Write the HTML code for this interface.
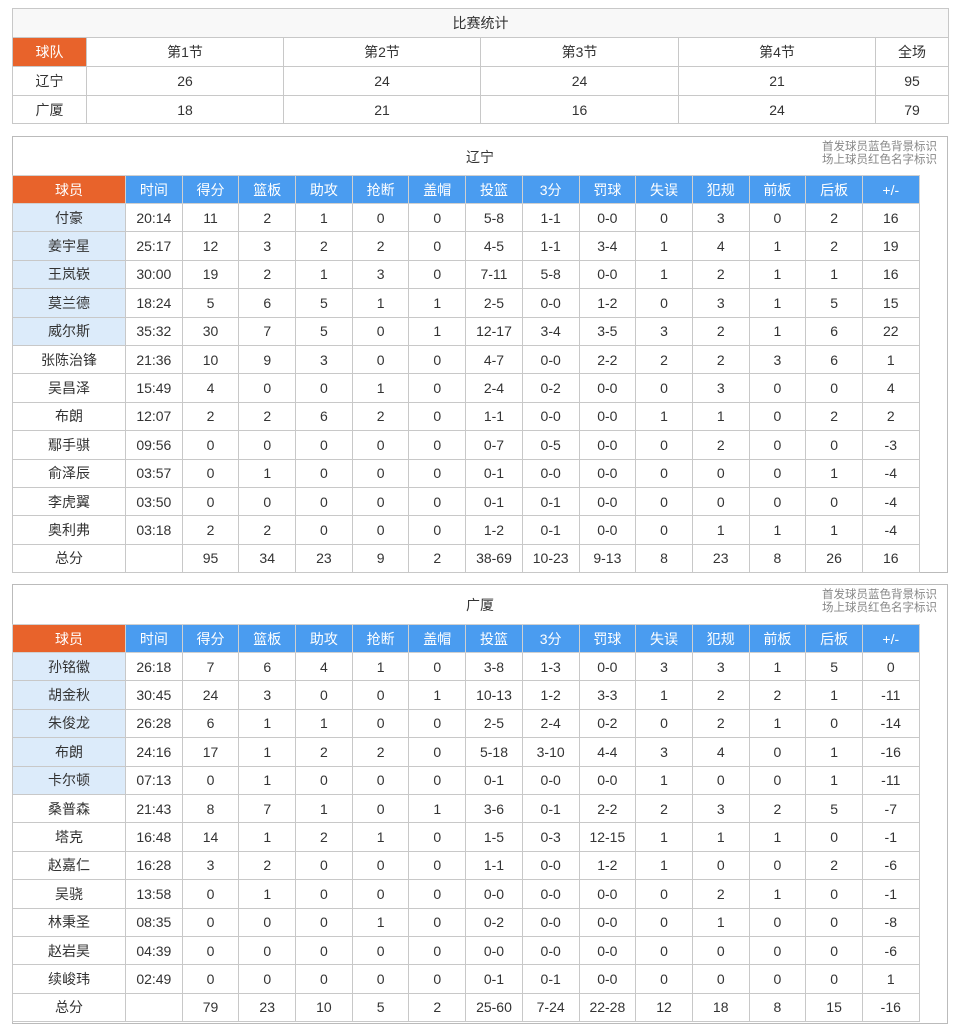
<!DOCTYPE html>
<html><head><meta charset="utf-8"><style>
*{margin:0;padding:0;box-sizing:border-box}
body{width:960px;height:1021px;background:#fff;position:relative;overflow:hidden;font-family:"Liberation Sans","Noto Sans CJK SC",sans-serif;font-size:14px;color:#333}
table{border-collapse:collapse;table-layout:fixed;position:absolute}
td{border:1px solid #c8c8c8;text-align:center;vertical-align:middle;white-space:nowrap;overflow:hidden}
.box{position:absolute;left:12px;width:936px;border:1px solid #bbb;background:#fff}
.o{background:#e8632b;color:#fff}
.h td{background:#4a9cf0;color:#fff;border-color:#d0d0d0}
.h td.o{background:#e8632b}
.s{background:#dcebfa}
.title{position:absolute;left:0;width:100%;text-align:center;font-size:14px}
.note{position:absolute;right:10px;font-size:11.5px;color:#888;line-height:13px;text-align:right}
</style></head><body>

<table style="left:12px;top:8px;width:936px">
<colgroup><col style="width:74px"><col style="width:197px"><col style="width:197px"><col style="width:198px"><col style="width:197px"><col style="width:73px"></colgroup>
<tr style="height:29px"><td colspan="6" style="background:#f8f8f8">比赛统计</td></tr>
<tr style="height:29px"><td class="o">球队</td><td>第1节</td><td>第2节</td><td>第3节</td><td>第4节</td><td>全场</td></tr>
<tr style="height:29px"><td>辽宁</td><td>26</td><td>24</td><td>24</td><td>21</td><td>95</td></tr>
<tr style="height:28px"><td>广厦</td><td>18</td><td>21</td><td>16</td><td>24</td><td>79</td></tr>
</table>

<div class="box" style="top:136px;height:437px">
<div class="title" style="top:10px">辽宁</div>
<div class="note" style="top:4px">首发球员蓝色背景标识<br>场上球员红色名字标识</div>
</div>
<table style="left:12px;top:175px;width:907px">
<colgroup><col style="width:113px"><col span="14" style="width:56.7px"></colgroup>
<tr class="h" style="height:28px"><td class="o">球员</td><td>时间</td><td>得分</td><td>篮板</td><td>助攻</td><td>抢断</td><td>盖帽</td><td>投篮</td><td>3分</td><td>罚球</td><td>失误</td><td>犯规</td><td>前板</td><td>后板</td><td>+/-</td></tr>
<tr style="height:28.4px"><td class="s">付豪</td><td>20:14</td><td>11</td><td>2</td><td>1</td><td>0</td><td>0</td><td>5-8</td><td>1-1</td><td>0-0</td><td>0</td><td>3</td><td>0</td><td>2</td><td>16</td></tr>
<tr style="height:28.4px"><td class="s">姜宇星</td><td>25:17</td><td>12</td><td>3</td><td>2</td><td>2</td><td>0</td><td>4-5</td><td>1-1</td><td>3-4</td><td>1</td><td>4</td><td>1</td><td>2</td><td>19</td></tr>
<tr style="height:28.4px"><td class="s">王岚嵚</td><td>30:00</td><td>19</td><td>2</td><td>1</td><td>3</td><td>0</td><td>7-11</td><td>5-8</td><td>0-0</td><td>1</td><td>2</td><td>1</td><td>1</td><td>16</td></tr>
<tr style="height:28.4px"><td class="s">莫兰德</td><td>18:24</td><td>5</td><td>6</td><td>5</td><td>1</td><td>1</td><td>2-5</td><td>0-0</td><td>1-2</td><td>0</td><td>3</td><td>1</td><td>5</td><td>15</td></tr>
<tr style="height:28.4px"><td class="s">威尔斯</td><td>35:32</td><td>30</td><td>7</td><td>5</td><td>0</td><td>1</td><td>12-17</td><td>3-4</td><td>3-5</td><td>3</td><td>2</td><td>1</td><td>6</td><td>22</td></tr>
<tr style="height:28.4px"><td>张陈治锋</td><td>21:36</td><td>10</td><td>9</td><td>3</td><td>0</td><td>0</td><td>4-7</td><td>0-0</td><td>2-2</td><td>2</td><td>2</td><td>3</td><td>6</td><td>1</td></tr>
<tr style="height:28.4px"><td>吴昌泽</td><td>15:49</td><td>4</td><td>0</td><td>0</td><td>1</td><td>0</td><td>2-4</td><td>0-2</td><td>0-0</td><td>0</td><td>3</td><td>0</td><td>0</td><td>4</td></tr>
<tr style="height:28.4px"><td>布朗</td><td>12:07</td><td>2</td><td>2</td><td>6</td><td>2</td><td>0</td><td>1-1</td><td>0-0</td><td>0-0</td><td>1</td><td>1</td><td>0</td><td>2</td><td>2</td></tr>
<tr style="height:28.4px"><td>鄢手骐</td><td>09:56</td><td>0</td><td>0</td><td>0</td><td>0</td><td>0</td><td>0-7</td><td>0-5</td><td>0-0</td><td>0</td><td>2</td><td>0</td><td>0</td><td>-3</td></tr>
<tr style="height:28.4px"><td>俞泽辰</td><td>03:57</td><td>0</td><td>1</td><td>0</td><td>0</td><td>0</td><td>0-1</td><td>0-0</td><td>0-0</td><td>0</td><td>0</td><td>0</td><td>1</td><td>-4</td></tr>
<tr style="height:28.4px"><td>李虎翼</td><td>03:50</td><td>0</td><td>0</td><td>0</td><td>0</td><td>0</td><td>0-1</td><td>0-1</td><td>0-0</td><td>0</td><td>0</td><td>0</td><td>0</td><td>-4</td></tr>
<tr style="height:28.4px"><td>奥利弗</td><td>03:18</td><td>2</td><td>2</td><td>0</td><td>0</td><td>0</td><td>1-2</td><td>0-1</td><td>0-0</td><td>0</td><td>1</td><td>1</td><td>1</td><td>-4</td></tr>
<tr style="height:28.4px"><td>总分</td><td></td><td>95</td><td>34</td><td>23</td><td>9</td><td>2</td><td>38-69</td><td>10-23</td><td>9-13</td><td>8</td><td>23</td><td>8</td><td>26</td><td>16</td></tr>
</table>

<div class="box" style="top:584px;height:440px">
<div class="title" style="top:10px">广厦</div>
<div class="note" style="top:4px">首发球员蓝色背景标识<br>场上球员红色名字标识</div>
</div>
<table style="left:12px;top:624px;width:907px">
<colgroup><col style="width:113px"><col span="14" style="width:56.7px"></colgroup>
<tr class="h" style="height:28px"><td class="o">球员</td><td>时间</td><td>得分</td><td>篮板</td><td>助攻</td><td>抢断</td><td>盖帽</td><td>投篮</td><td>3分</td><td>罚球</td><td>失误</td><td>犯规</td><td>前板</td><td>后板</td><td>+/-</td></tr>
<tr style="height:28.4px"><td class="s">孙铭徽</td><td>26:18</td><td>7</td><td>6</td><td>4</td><td>1</td><td>0</td><td>3-8</td><td>1-3</td><td>0-0</td><td>3</td><td>3</td><td>1</td><td>5</td><td>0</td></tr>
<tr style="height:28.4px"><td class="s">胡金秋</td><td>30:45</td><td>24</td><td>3</td><td>0</td><td>0</td><td>1</td><td>10-13</td><td>1-2</td><td>3-3</td><td>1</td><td>2</td><td>2</td><td>1</td><td>-11</td></tr>
<tr style="height:28.4px"><td class="s">朱俊龙</td><td>26:28</td><td>6</td><td>1</td><td>1</td><td>0</td><td>0</td><td>2-5</td><td>2-4</td><td>0-2</td><td>0</td><td>2</td><td>1</td><td>0</td><td>-14</td></tr>
<tr style="height:28.4px"><td class="s">布朗</td><td>24:16</td><td>17</td><td>1</td><td>2</td><td>2</td><td>0</td><td>5-18</td><td>3-10</td><td>4-4</td><td>3</td><td>4</td><td>0</td><td>1</td><td>-16</td></tr>
<tr style="height:28.4px"><td class="s">卡尔顿</td><td>07:13</td><td>0</td><td>1</td><td>0</td><td>0</td><td>0</td><td>0-1</td><td>0-0</td><td>0-0</td><td>1</td><td>0</td><td>0</td><td>1</td><td>-11</td></tr>
<tr style="height:28.4px"><td>桑普森</td><td>21:43</td><td>8</td><td>7</td><td>1</td><td>0</td><td>1</td><td>3-6</td><td>0-1</td><td>2-2</td><td>2</td><td>3</td><td>2</td><td>5</td><td>-7</td></tr>
<tr style="height:28.4px"><td>塔克</td><td>16:48</td><td>14</td><td>1</td><td>2</td><td>1</td><td>0</td><td>1-5</td><td>0-3</td><td>12-15</td><td>1</td><td>1</td><td>1</td><td>0</td><td>-1</td></tr>
<tr style="height:28.4px"><td>赵嘉仁</td><td>16:28</td><td>3</td><td>2</td><td>0</td><td>0</td><td>0</td><td>1-1</td><td>0-0</td><td>1-2</td><td>1</td><td>0</td><td>0</td><td>2</td><td>-6</td></tr>
<tr style="height:28.4px"><td>吴骁</td><td>13:58</td><td>0</td><td>1</td><td>0</td><td>0</td><td>0</td><td>0-0</td><td>0-0</td><td>0-0</td><td>0</td><td>2</td><td>1</td><td>0</td><td>-1</td></tr>
<tr style="height:28.4px"><td>林秉圣</td><td>08:35</td><td>0</td><td>0</td><td>0</td><td>1</td><td>0</td><td>0-2</td><td>0-0</td><td>0-0</td><td>0</td><td>1</td><td>0</td><td>0</td><td>-8</td></tr>
<tr style="height:28.4px"><td>赵岩昊</td><td>04:39</td><td>0</td><td>0</td><td>0</td><td>0</td><td>0</td><td>0-0</td><td>0-0</td><td>0-0</td><td>0</td><td>0</td><td>0</td><td>0</td><td>-6</td></tr>
<tr style="height:28.4px"><td>续峻玮</td><td>02:49</td><td>0</td><td>0</td><td>0</td><td>0</td><td>0</td><td>0-1</td><td>0-1</td><td>0-0</td><td>0</td><td>0</td><td>0</td><td>0</td><td>1</td></tr>
<tr style="height:28.4px"><td>总分</td><td></td><td>79</td><td>23</td><td>10</td><td>5</td><td>2</td><td>25-60</td><td>7-24</td><td>22-28</td><td>12</td><td>18</td><td>8</td><td>15</td><td>-16</td></tr>
</table>
</body></html>
